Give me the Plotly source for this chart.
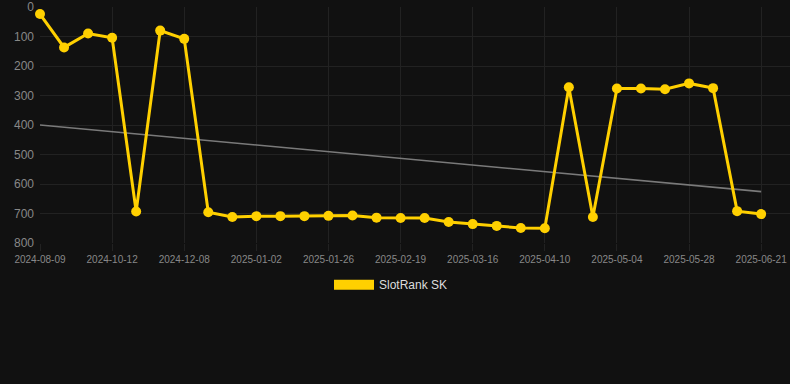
import plotly.graph_objects as go

dates = [
    "2024-08-09", "2024-08-30", "2024-09-20", "2024-10-12", "2024-10-31",
    "2024-11-19", "2024-12-08", "2024-12-16", "2024-12-24", "2025-01-02",
    "2025-01-10", "2025-01-18", "2025-01-26", "2025-02-03", "2025-02-11",
    "2025-02-19", "2025-02-27", "2025-03-07", "2025-03-16", "2025-03-24",
    "2025-04-01", "2025-04-10", "2025-04-18", "2025-04-26", "2025-05-04",
    "2025-05-12", "2025-05-20", "2025-05-28", "2025-06-05", "2025-06-13",
    "2025-06-21",
]
ranks = [
    24, 137, 90, 104, 693, 80, 108, 696, 712, 709,
    709, 709, 708, 707, 714, 715, 715, 729, 736, 742,
    749, 750, 272, 712, 276, 276, 279, 259, 275, 692,
    702,
]
trend_x = [dates[0], dates[-1]]
trend_y = [400, 626]
tick_labels = dates[::3]

fig = go.Figure()
fig.add_trace(go.Scatter(
    x=trend_x, y=trend_y, mode="lines",
    line=dict(color="#7a7a7a", width=1.6),
    showlegend=False, hoverinfo="skip",
))
fig.add_trace(go.Scatter(
    x=dates, y=ranks, mode="lines+markers", name="SlotRank SK",
    line=dict(color="#FFD000", width=3),
    marker=dict(color="#FFD000", size=10),
    showlegend=False, cliponaxis=False,
))
fig.add_trace(go.Scatter(
    x=[None], y=[None], mode="lines", name="SlotRank SK",
    line=dict(color="#FFD000", width=11),
))

fig.update_layout(
    width=790, height=384,
    margin=dict(l=40, r=0, t=7, b=141),
    paper_bgcolor="#111111", plot_bgcolor="#111111",
    font=dict(family="Liberation Sans, Arial, sans-serif", color="#888888"),
    showlegend=True,
    legend=dict(
        orientation="h", x=0.468, xanchor="center", y=-0.115, yanchor="top",
        font=dict(color="#dddddd", size=12), itemwidth=40,
        bgcolor="rgba(0,0,0,0)",
    ),
    xaxis=dict(
        type="category", categoryorder="array", categoryarray=dates,
        range=[0, 31.2], tickvals=tick_labels, ticktext=tick_labels,
        showgrid=True, gridcolor="#222222", gridwidth=1,
        zeroline=False, showline=False,
        ticks="outside", ticklen=7, tickcolor="#222222",
        tickfont=dict(size=10, color="#888888"), tickangle=0,
    ),
    yaxis=dict(
        range=[800, 0], tickvals=[0, 100, 200, 300, 400, 500, 600, 700, 800],
        showgrid=True, gridcolor="#222222", gridwidth=1,
        zeroline=False, showline=False, ticklabelstandoff=5,
        tickfont=dict(size=12, color="#888888"),
    ),
)

fig.write_html(
    "out.html",
    config={"displayModeBar": False},
    post_script="document.body.style.margin='0';document.body.style.background='#111111';",
)
